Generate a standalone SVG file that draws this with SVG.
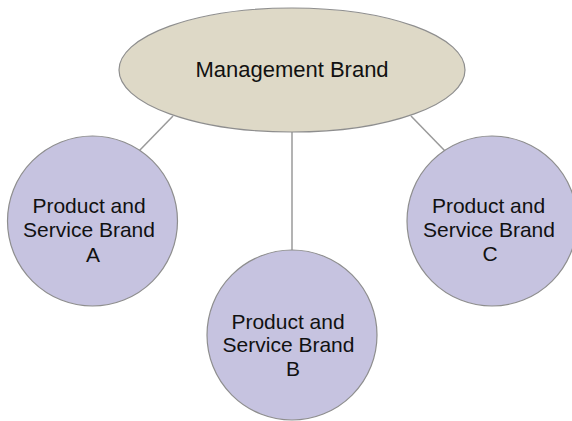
<svg xmlns="http://www.w3.org/2000/svg" width="572" height="421" viewBox="0 0 572 421">
  <style>
    .edge { stroke: #9a9a9a; stroke-width: 1.5; fill: none; }
    .root { fill: #ded9c7; stroke: #8e8e8e; stroke-width: 1.2; }
    .leaf { fill: #c6c3e0; stroke: #8e8e8e; stroke-width: 1.2; }
    text { font-family: "Liberation Sans", Arial, sans-serif; font-size: 21px; fill: #111111; text-anchor: middle; }
  </style>
  <rect width="572" height="421" fill="#ffffff"/>

  <!-- connectors -->
  <g id="connectors">
    <line class="edge" x1="173" y1="116" x2="139" y2="151"/>
    <line class="edge" x1="292" y1="132" x2="292" y2="250"/>
    <line class="edge" x1="411" y1="116" x2="445" y2="151"/>
  </g>

  <g id="management-brand">
    <ellipse class="root" cx="292" cy="70" rx="173" ry="62"/>
    <text x="292" y="77" style="font-size:22px">Management Brand</text>
  </g>

  <g id="brand-a">
    <circle class="leaf" cx="92.5" cy="221" r="85"/>
    <text x="89" y="213">Product and</text>
    <text x="89" y="237">Service Brand</text>
    <text x="93" y="262">A</text>
  </g>

  <g id="brand-b">
    <circle class="leaf" cx="292" cy="335" r="85"/>
    <text x="288" y="329">Product and</text>
    <text x="288.5" y="352">Service Brand</text>
    <text x="293" y="376">B</text>
  </g>

  <g id="brand-c">
    <circle class="leaf" cx="492" cy="221" r="85"/>
    <text x="488.5" y="213">Product and</text>
    <text x="489" y="237">Service Brand</text>
    <text x="490" y="261">C</text>
  </g>
</svg>
